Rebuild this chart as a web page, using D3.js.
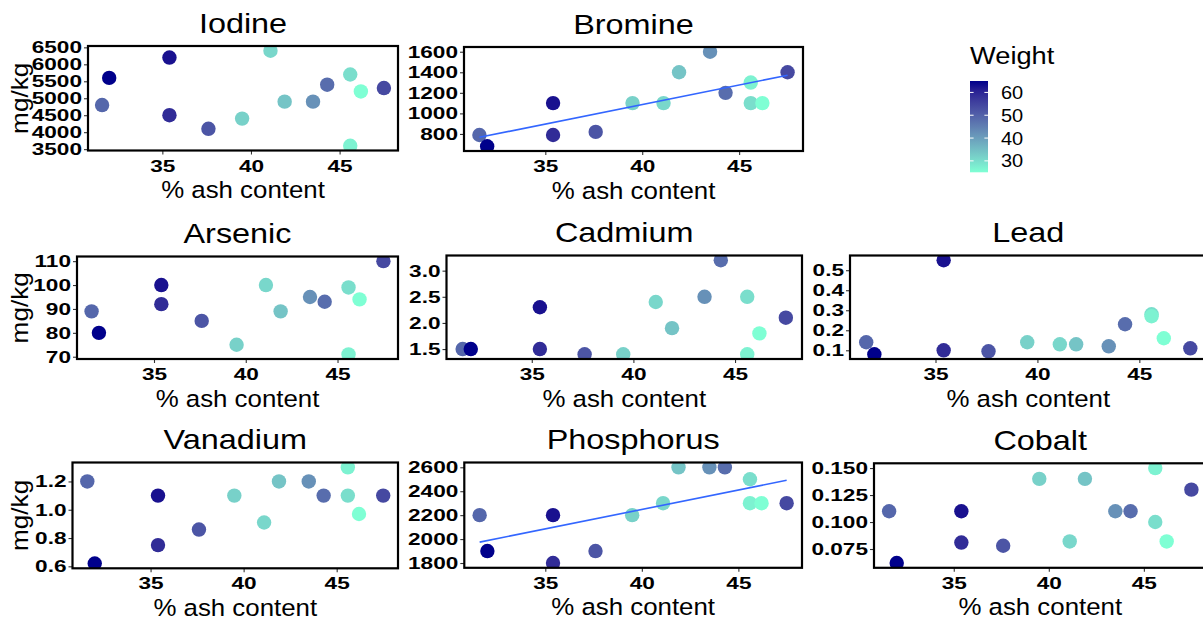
<!DOCTYPE html>
<html>
<head>
<meta charset="utf-8">
<script src="https://cdn.jsdelivr.net/npm/d3@7"></script>
<style>
	body { margin: 0; background: #fff; }
	svg { display: block; font-family: "Liberation Sans", Arial, sans-serif; }
</style>
</head>
<body>
<div id="vis"></div>
<script>
// one entry per sample, sorted by ash content
var ash    = [31.6, 32.0, 35.4, 35.4, 37.6, 39.5, 41.1, 41.9, 43.5, 44.3, 45.6, 45.6, 46.2, 47.5];
var weight = [49, 65, 63, 59, 52, 32, 31, 34, 42, 48, 30, 27, 25, 54];

// element concentrations (mg/kg)
var iodine     = [4800, 5600, 6200, 4500, 4100, 4400, 6400, 4900, 4900, 5400, 5700, 3600, 5200, 5300];
var bromine    = [790, 680, 1100, 790, 820, 1100, 1100, 1400, 1600, 1200, 1100, 1300, 1100, 1400];
var arsenic    = [89, 80, 100, 92, 85, 75, 100, 89, 95, 93, 99, 71, 94, 110];
var cadmium    = [1.5, 1.5, 2.3, 1.5, 1.4, 1.4, 2.4, 1.9, 2.5, 3.2, 2.5, 1.4, 1.8, 2.1];
var lead       = [0.14, 0.08, 0.55, 0.10, 0.095, 0.14, 0.13, 0.13, 0.12, 0.23, 0.28, 0.27, 0.16, 0.11];
var vanadium   = [1.2, 0.62, 1.1, 0.75, 0.86, 1.1, 0.91, 1.2, 1.2, 1.1, 1.1, 1.3, 0.97, 1.1];
var phosphorus = [2200, 1900, 2200, 1800, 1900, 2200, 2300, 2600, 2600, 2600, 2500, 2300, 2300, 2300];
var cobalt     = [0.11, 0.062, 0.11, 0.081, 0.078, 0.14, 0.082, 0.14, 0.11, 0.11, 0.10, 0.15, 0.082, 0.13];

// tick labels
var xTicks          = [35, 40, 45];
var iodineTicks     = [3500, 4000, 4500, 5000, 5500, 6000, 6500];
var bromineTicks    = [800, 1000, 1200, 1400, 1600];
var arsenicTicks    = [70, 80, 90, 100, 110];
var cadmiumTicks    = [1.5, 2.0, 2.5, 3.0];
var leadTicks       = [0.1, 0.2, 0.3, 0.4, 0.5];
var vanadiumTicks   = [0.6, 0.8, 1.0, 1.2];
var phosphorusTicks = [1800, 2000, 2200, 2400, 2600];
var cobaltTicks     = [0.075, 0.100, 0.125, 0.150];
var weightTicks     = [30, 40, 50, 60];

var width = 1203;
var height = 624;

// panel boxes: [left, right, top, bottom]
var panels = [
	{ name: 'Iodine',     values: iodine,     ticks: iodineTicks,     fmt: '.0f', box: [88, 398, 46, 150.5],      ylab: true,  fit: false },
	{ name: 'Bromine',    values: bromine,    ticks: bromineTicks,    fmt: '.0f', box: [464, 803, 47, 151],       ylab: false, fit: true },
	{ name: 'Arsenic',    values: arsenic,    ticks: arsenicTicks,    fmt: '.0f', box: [77, 398, 256.5, 359],     ylab: true,  fit: false },
	{ name: 'Cadmium',    values: cadmium,    ticks: cadmiumTicks,    fmt: '.1f', box: [446.5, 802, 255.5, 359],  ylab: false, fit: false },
	{ name: 'Lead',       values: lead,       ticks: leadTicks,       fmt: '.1f', box: [850, 1206.5, 255.5, 359], ylab: false, fit: false },
	{ name: 'Vanadium',   values: vanadium,   ticks: vanadiumTicks,   fmt: '.1f', box: [72.5, 398, 462.5, 568.3], ylab: true,  fit: false },
	{ name: 'Phosphorus', values: phosphorus, ticks: phosphorusTicks, fmt: '.0f', box: [464.3, 802, 462.5, 567.8], ylab: false, fit: true },
	{ name: 'Cobalt',     values: cobalt,     ticks: cobaltTicks,     fmt: '.3f', box: [874, 1206.5, 463.3, 567.8], ylab: false, fit: false }
];

var svg = d3.select('#vis')
	.append('svg')
	.attr('width', width)
	.attr('height', height);

var color = d3.scaleLinear()
	.domain(d3.extent(weight))
	.range(['#7FFFD4', '#00008B'])
	.interpolate(d3.interpolateLab);

// ggplot style 5% padding
var padExtent = function(ext) {
	var d = (ext[1] - ext[0]) * 0.05;
	return [ext[0] - d, ext[1] + d];
};

// text is drawn a little wide in the original, so stretch along the baseline
var label = function(parent, x, y, str, size, sx, opts) {
	opts = opts || {};
	return parent.append('text')
		.attr('transform', 'translate(' + x + ',' + y + ')' + (opts.rotate ? ' rotate(-90)' : '') + ' scale(' + sx + ',1)')
		.attr('text-anchor', opts.anchor || 'middle')
		.style('font-size', size + 'px')
		.style('font-weight', opts.bold ? 'bold' : 'normal')
		.style('fill', '#000')
		.text(str);
};

var tickStretch = 1.33;

panels.forEach(function(p, i) {
	var l = p.box[0], r = p.box[1], t = p.box[2], b = p.box[3];

	var xScale = d3.scaleLinear().domain(padExtent(d3.extent(ash))).range([l, r]);
	var yScale = d3.scaleLinear().domain(padExtent(d3.extent(p.values))).range([b, t]);

	var clipId = 'clip' + i;
	svg.append('clipPath').attr('id', clipId)
		.append('rect')
		.attr('x', l).attr('y', t)
		.attr('width', r - l).attr('height', b - t);

	var g = svg.append('g');
	var plot = g.append('g').attr('clip-path', 'url(#' + clipId + ')');

	plot.selectAll('circle')
		.data(ash)
		.enter().append('circle')
		.attr('cx', function(d) { return xScale(d); })
		.attr('cy', function(d, j) { return yScale(p.values[j]); })
		.attr('r', 7.2)
		.style('fill', function(d, j) { return color(weight[j]); });

	// linear fit for the panels that have one
	if (p.fit) {
		var mx = d3.mean(ash), my = d3.mean(p.values);
		var sxy = d3.sum(ash, function(d, j) { return (d - mx) * (p.values[j] - my); });
		var sxx = d3.sum(ash, function(d) { return (d - mx) * (d - mx); });
		var slope = sxy / sxx;
		var ends = d3.extent(ash);
		var line = d3.line()
			.x(function(d) { return xScale(d); })
			.y(function(d) { return yScale(my + slope * (d - mx)); });
		plot.append('path')
			.datum(ends)
			.attr('d', line)
			.attr('fill', 'none')
			.attr('stroke', '#3366FF')
			.attr('stroke-width', 1.6);
	}

	var xAxis = d3.axisBottom(xScale).tickValues(xTicks).tickSize(4).tickPadding(5);
	var yAxis = d3.axisLeft(yScale).tickValues(p.ticks).tickFormat(d3.format(p.fmt)).tickSize(4).tickPadding(2);

	var xg = g.append('g').attr('transform', 'translate(0,' + b + ')').call(xAxis);
	var yg = g.append('g').attr('transform', 'translate(' + l + ',0)').call(yAxis);

	[xg, yg].forEach(function(ag) {
		ag.select('.domain').remove();
		ag.selectAll('.tick line').attr('stroke', '#333').attr('stroke-width', 1.1);
		ag.selectAll('.tick text')
			.style('font-size', '17px')
			.style('font-weight', 'bold')
			.style('fill', '#000')
			.style('font-family', '"Liberation Sans", Arial, sans-serif')
			.attr('transform', 'scale(' + tickStretch + ',1)');
	});
	yg.selectAll('.tick text').attr('x', -6 / tickStretch);

	g.append('rect')
		.attr('x', l).attr('y', t)
		.attr('width', r - l).attr('height', b - t)
		.attr('fill', 'none')
		.attr('stroke', '#000')
		.attr('stroke-width', 2.2);

	var cx = (l + r) / 2;
	label(g, cx, t - 13.5, p.name, 27, 1.2);
	label(g, cx, b + 47.5, '% ash content', 23.5, 1.1);
	if (p.ylab) label(g, 28, (t + b) / 2, 'mg/kg', 23, 1.14, { rotate: true });
});

// colour bar legend
var legend = svg.append('g');
var barX = 970, barW = 18, barTop = 81, barBottom = 172.3;
var wScale = d3.scaleLinear().domain(d3.extent(weight)).range([barBottom, barTop]);

var grad = svg.append('defs').append('linearGradient')
	.attr('id', 'wgrad')
	.attr('x1', 0).attr('y1', 1).attr('x2', 0).attr('y2', 0);
grad.selectAll('stop')
	.data(d3.range(0, 1.0001, 0.1))
	.enter().append('stop')
	.attr('offset', function(d) { return d; })
	.attr('stop-color', function(d) { return color(wScale.domain()[0] + d * (wScale.domain()[1] - wScale.domain()[0])); });

legend.append('rect')
	.attr('x', barX).attr('y', barTop)
	.attr('width', barW).attr('height', barBottom - barTop)
	.attr('fill', 'url(#wgrad)');

legend.selectAll('.wtick')
	.data(weightTicks)
	.enter().append('g')
	.each(function(d) {
		var y = wScale(d);
		var tg = d3.select(this);
		tg.append('line').attr('x1', barX).attr('x2', barX + 3.6).attr('y1', y).attr('y2', y)
			.attr('stroke', '#fff').attr('stroke-width', 1);
		tg.append('line').attr('x1', barX + barW - 3.6).attr('x2', barX + barW).attr('y1', y).attr('y2', y)
			.attr('stroke', '#fff').attr('stroke-width', 1);
		label(tg, 1001, y + 6.6, d, 18.5, 1.08, { anchor: 'start' });
	});

label(legend, 970, 64, 'Weight', 23.5, 1.16, { anchor: 'start' });
</script>
</body>
</html>
